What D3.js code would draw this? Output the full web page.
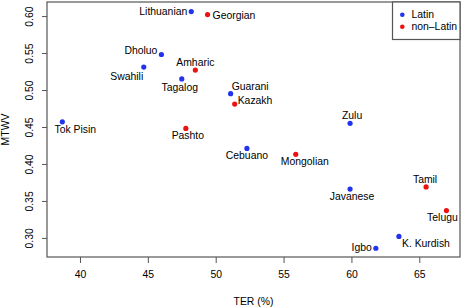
<!DOCTYPE html>
<html>
<head>
<meta charset="utf-8">
<script src="https://cdn.jsdelivr.net/npm/d3@7"></script>
<style>
body { margin: 0; background: #fff; }
text { font-family: "Liberation Sans", Arial, sans-serif; }
</style>
</head>
<body>
<script>
const w = 463
const h = 307
const margin = {top: 2, right: 3, bottom: 50, left: 47}

// data
const languages = ["Lithuanian", "Georgian", "Dholuo", "Swahili", "Amharic", "Tagalog",
	"Guarani", "Kazakh", "Tok Pisin", "Pashto", "Cebuano", "Mongolian", "Zulu",
	"Javanese", "Tamil", "Telugu", "K. Kurdish", "Igbo"]
const ter = [48.2, 49.4, 46.0, 44.7, 48.5, 47.5, 51.1, 51.4, 38.7, 47.8, 52.3, 55.9, 59.9,
	59.9, 65.5, 67.0, 63.5, 61.8]
const mtwv = [0.606, 0.602, 0.548, 0.531, 0.527, 0.515, 0.495, 0.481, 0.457, 0.448, 0.421,
	0.413, 0.455, 0.366, 0.369, 0.337, 0.302, 0.286]
const script = ["Latin", "non-Latin", "Latin", "Latin", "non-Latin", "Latin", "Latin",
	"non-Latin", "Latin", "non-Latin", "Latin", "non-Latin", "Latin", "Latin",
	"non-Latin", "non-Latin", "Latin", "Latin"]
const xTicks = [40, 45, 50, 55, 60, 65]
const yTicks = [0.30, 0.35, 0.40, 0.45, 0.50, 0.55, 0.60]
const scripts = ["Latin", "non-Latin"]

// label offsets relative to the point [dx, dy, anchor]
const labelPos = [
	[-4, 0, "end"], [5, 1, "start"], [-4, -4, "end"], [-17, 9, "middle"],
	[0, -8, "middle"], [-2, 8, "middle"], [1, -7, "start"], [3, -4, "start"],
	[13, 8, "middle"], [2, 7, "middle"], [0, 7, "middle"], [9, 7, "middle"],
	[2, -8, "middle"], [2, 7, "middle"], [-1, -8, "middle"], [-4, 7, "middle"],
	[27, 7, "middle"], [-4, -1, "end"]
]

const dataset = languages.map((d, i) => ({
	name: d, ter: ter[i], mtwv: mtwv[i], script: script[i], pos: labelPos[i]
}))

const svg = d3.select("body").append("svg")
	.attr("width", w)
	.attr("height", h)

const xScale = d3.scaleLinear()
	.domain([37.57, 68.0])
	.range([margin.left, w - margin.right])

const yScale = d3.scaleLinear()
	.domain([0.2742, 0.6190])
	.range([h - margin.bottom, margin.top])

const color = d3.scaleOrdinal()
	.domain(scripts)
	.range(["#2233ee", "#ee1111"])

const frameColor = "#555"
const fs = 10.4

// x axis
let xAxis = d3.axisBottom(xScale).tickValues(xTicks).tickSize(6).tickFormat(d3.format("d"))
let gx = svg.append("g")
	.attr("transform", "translate(0," + (h - margin.bottom) + ")")
	.call(xAxis)
gx.select(".domain").remove()
gx.selectAll("line").attr("stroke", frameColor)
gx.selectAll("text")
	.attr("font-size", fs)
	.attr("fill", "#000")
	.attr("y", 14)

// y axis, rotated labels like R
let yAxis = d3.axisLeft(yScale).tickValues(yTicks).tickSize(5).tickFormat(d3.format(".2f"))
let gy = svg.append("g")
	.attr("transform", "translate(" + margin.left + ",0)")
	.call(yAxis)
gy.select(".domain").remove()
gy.selectAll("line").attr("stroke", frameColor)
gy.selectAll("text")
	.attr("font-size", fs)
	.attr("fill", "#000")
	.attr("x", 0)
	.attr("dy", null)
	.attr("text-anchor", "middle")
	.attr("transform", "translate(-14,0) rotate(-90)")

// box
svg.append("rect")
	.attr("x", margin.left)
	.attr("y", margin.top)
	.attr("width", w - margin.left - margin.right)
	.attr("height", h - margin.top - margin.bottom)
	.attr("fill", "none")
	.attr("stroke", frameColor)
	.attr("stroke-width", 1.2)

// axis titles
svg.append("text")
	.attr("x", (margin.left + w - margin.right) / 2)
	.attr("y", 305)
	.attr("text-anchor", "middle")
	.attr("font-size", fs)
	.text("TER (%)")

svg.append("text")
	.attr("transform", "translate(8.5," + ((margin.top + h - margin.bottom) / 2) + ") rotate(-90)")
	.attr("text-anchor", "middle")
	.attr("font-size", fs)
	.text("MTWV")

// points
svg.selectAll("circle.pt")
	.data(dataset)
	.enter()
	.append("circle")
	.attr("class", "pt")
	.attr("cx", d => xScale(d.ter))
	.attr("cy", d => yScale(d.mtwv))
	.attr("r", 2.6)
	.attr("fill", d => color(d.script))

// labels
svg.selectAll("text.lab")
	.data(dataset)
	.enter()
	.append("text")
	.attr("class", "lab")
	.attr("x", d => xScale(d.ter) + d.pos[0])
	.attr("y", d => yScale(d.mtwv) + d.pos[1])
	.attr("dy", "0.35em")
	.attr("text-anchor", d => d.pos[2])
	.attr("font-size", fs)
	.text(d => d.name)

// legend
let legend = svg.append("g")
legend.append("rect")
	.attr("x", 392.5)
	.attr("y", margin.top)
	.attr("width", w - margin.right - 392.5)
	.attr("height", 37.5)
	.attr("fill", "#fff")
	.attr("stroke", frameColor)
	.attr("stroke-width", 1.2)
legend.selectAll("circle")
	.data(scripts)
	.enter()
	.append("circle")
	.attr("cx", 402.3)
	.attr("cy", (d, i) => 14.7 + i * 12)
	.attr("r", 2.3)
	.attr("fill", d => color(d))
legend.selectAll("text")
	.data(scripts)
	.enter()
	.append("text")
	.attr("x", 411.5)
	.attr("y", (d, i) => 14.7 + i * 12)
	.attr("dy", "0.35em")
	.attr("font-size", fs)
	.text(d => d === "non-Latin" ? "non\u2013Latin" : d)
</script>
</body>
</html>
